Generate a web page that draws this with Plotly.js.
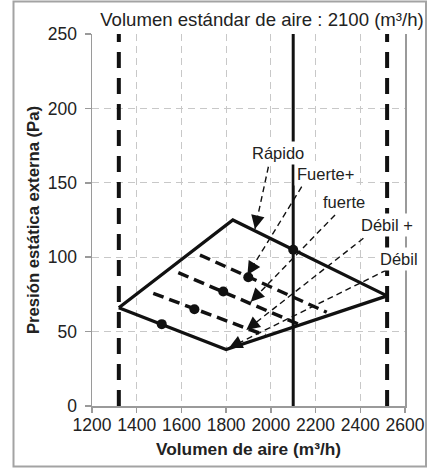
<!DOCTYPE html>
<html>
<head>
<meta charset="utf-8">
<script src="https://cdn.plot.ly/plotly-3.0.1.min.js"></script>
<style>html,body{margin:0;padding:0;background:#fff;}#chart{width:428px;height:469px;}</style>
</head>
<body>
<div id="chart"></div>
<script>
// ---- data ----
const xTicks = [1200, 1400, 1600, 1800, 2000, 2200, 2400, 2600];
const yTicks = [0, 50, 100, 150, 200, 250];

// operating envelope (top edge = Rápido curve, bottom edge = Débil curve)
const envelopeX = [1320, 1830, 2520, 1800, 1320];
const envelopeY = [66, 125, 74, 38, 66];

// limits of air volume and standard air volume
const limitX = [1320, 2520];
const standardX = 2100;

// intermediate speed curves (thick dashed)
const fuertePlusX = [1683, 2250];
const fuertePlusY = [101.5, 63];
const fuerteX = [1586, 2131];
const fuerteY = [89.6, 54.5];
const debilPlusX = [1474, 1975];
const debilPlusY = [75.7, 47.5];

// operating points at each speed
const pointX = [1512, 1658, 1787, 1899, 2100];
const pointY = [55, 65, 77, 86.5, 105];

// callout labels and arrows
const speedLabels = ['Rápido', 'Fuerte+', 'fuerte', 'Débil +', 'Débil'];
const labelX = [2032, 2246, 2327, 2520, 2573];
const labelY = [170, 156, 137, 121.6, 98.8];
const arrowStartX = [1989, 2138, 2287, 2414, 2518];
const arrowStartY = [160.8, 147.4, 128.4, 112.7, 91.4];
const arrowTipX = [1929, 1895, 1910, 1890, 1812];
const arrowTipY = [119, 88, 70, 51, 39];

const titleText = 'Volumen estándar de aire : 2100 (m³/h)';
const xTitle = 'Volumen de aire (m³/h)';
const yTitle = 'Presión estática externa (Pa)';

// ---- layout geometry ----
const W = 428, H = 469;
const M = {l: 92, r: 23, t: 34, b: 63};
const plotW = W - M.l - M.r, plotH = H - M.t - M.b;
const xRange = [1200, 2600], yRange = [0, 250];
const FONT = '"Liberation Sans", Arial, Helvetica, sans-serif';
const px = v => (v - M.l) / plotW;           // page x -> paper
const py = v => (H - M.b - v) / plotH;        // page y -> paper

const traces = [];
// vertical limit lines
limitX.forEach(x => traces.push({
  x: [x, x], y: yRange, mode: 'lines', hoverinfo: 'skip', showlegend: false,
  line: {color: '#111', width: 4, dash: '16px,10px'}
}));
// standard air volume line
traces.push({
  x: [standardX, standardX], y: yRange, mode: 'lines', showlegend: false,
  line: {color: '#111', width: 3}
});
// envelope
traces.push({
  x: envelopeX, y: envelopeY, mode: 'lines', showlegend: false,
  line: {color: '#111', width: 3.3}
});
// intermediate speeds
[[fuertePlusX, fuertePlusY], [fuerteX, fuerteY], [debilPlusX, debilPlusY]].forEach(([xs, ys]) =>
  traces.push({x: xs, y: ys, mode: 'lines', showlegend: false,
    line: {color: '#111', width: 3.5, dash: '11px,6px'}}));
// callout dashed lines
speedLabels.forEach((s, i) => traces.push({
  x: [arrowStartX[i], arrowTipX[i]], y: [arrowStartY[i], arrowTipY[i]],
  mode: 'lines', showlegend: false, line: {color: '#111', width: 1.4, dash: '6px,4px'}
}));
// operating points
traces.push({x: pointX, y: pointY, mode: 'markers', showlegend: false,
  marker: {color: '#111', size: 10}});

// annotations: labels + arrowheads
const annotations = [];
const sx = plotW / (xRange[1] - xRange[0]), sy = plotH / (yRange[1] - yRange[0]);
speedLabels.forEach((s, i) => {
  const dxp = (arrowStartX[i] - arrowTipX[i]) * sx, dyp = (arrowStartY[i] - arrowTipY[i]) * sy;
  const len = Math.hypot(dxp, dyp), f = 13 / len;
  annotations.push({
    x: arrowTipX[i], y: arrowTipY[i], xref: 'x', yref: 'y',
    ax: arrowTipX[i] + (arrowStartX[i] - arrowTipX[i]) * f,
    ay: arrowTipY[i] + (arrowStartY[i] - arrowTipY[i]) * f,
    axref: 'x', ayref: 'y', text: '', showarrow: true,
    arrowhead: 2, arrowsize: 1.8, arrowwidth: 1.5, arrowcolor: '#111', standoff: 0
  });
});
speedLabels.forEach((s, i) => annotations.push({
  x: labelX[i], y: labelY[i], xref: 'x', yref: 'y', text: s, showarrow: false,
  font: {family: FONT, size: 16.5, color: '#222'}, bgcolor: '#fff', borderpad: 2,
  xanchor: 'center', yanchor: 'middle'
}));

const layout = {
  width: W, height: H, margin: M, paper_bgcolor: '#fff', plot_bgcolor: '#fff',
  font: {family: FONT, color: '#222', size: 17.5},
  showlegend: false,
  title: {text: titleText, font: {family: FONT, size: 18.6, color: '#222'},
    xref: 'paper', x: px(262), xanchor: 'center', yref: 'container', y: 1 - 19 / H, yanchor: 'middle'},
  xaxis: {
    range: xRange, tickvals: xTicks, ticktext: xTicks.map(String),
    showgrid: true, gridcolor: '#c8c8c8', griddash: '7px,5px', gridwidth: 1.2,
    zeroline: false, showline: true, linecolor: '#9a9a9a', linewidth: 1.5, mirror: false,
    ticks: 'outside', ticklen: 5, tickcolor: '#9a9a9a', tickwidth: 1.5, ticklabelstandoff: -3,
    tickfont: {family: FONT, size: 17.5, color: '#222'}, fixedrange: true, automargin: false,
    title: {text: xTitle, font: {family: FONT, size: 17.3, color: '#222', weight: 'bold'}, standoff: 9}
  },
  yaxis: {
    range: yRange, tickvals: yTicks, ticktext: yTicks.map(String),
    showgrid: true, gridcolor: '#c8c8c8', griddash: '7px,5px', gridwidth: 1.2,
    zeroline: false, showline: true, linecolor: '#9a9a9a', linewidth: 1.5, mirror: true,
    ticks: 'outside', ticklen: 6, tickcolor: '#9a9a9a', tickwidth: 1.5, ticklabelstandoff: 4,
    tickfont: {family: FONT, size: 17.5, color: '#222'}, fixedrange: true, automargin: false,
    title: {text: yTitle, font: {family: FONT, size: 16.7, color: '#222', weight: 'bold'}, standoff: 4}
  },
  shapes: [{
    type: 'rect', xref: 'paper', yref: 'paper', layer: 'above',
    x0: px(13.5), x1: px(426), y0: py(466.5), y1: py(1.5),
    line: {color: '#a3a3a3', width: 2}, fillcolor: 'rgba(0,0,0,0)'
  }],
  annotations: annotations
};

Plotly.newPlot('chart', traces, layout, {displayModeBar: false, staticPlot: true});
</script>
</body>
</html>
